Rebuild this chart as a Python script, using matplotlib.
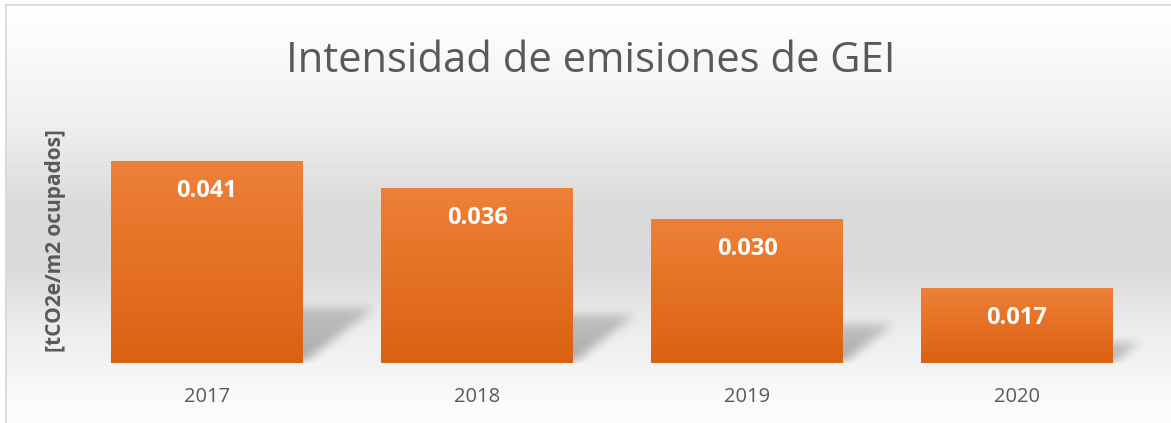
import numpy as np
import matplotlib
matplotlib.use("Agg")
import matplotlib.pyplot as plt

years = ["2017", "2018", "2019", "2020"]
values = [0.041, 0.036, 0.030, 0.017]
value_labels = ["0.041", "0.036", "0.030", "0.017"]
title = "Intensidad de emisiones de GEI"
ylabel = "[tCO2e/m2 ocupados]"

W, H = 1171, 423
fig = plt.figure(figsize=(W / 100, H / 100), dpi=100)

# background gradient
bg = fig.add_axes([0, 0, 1, 1], zorder=0)
bg.axis("off")
stops_y = [0, 5, 120, 210, 265, 330, 400, 423]
stops_v = [255, 255, 239, 217, 218, 236, 250, 252]
v = np.interp(np.arange(H), stops_y, stops_v) / 255.0
img = np.repeat(v[:, None], W, axis=1)
img[:, :5] = 1
img[:5, :] = 1
bg.imshow(img, cmap="gray", vmin=0, vmax=1, extent=[0, W, H, 0], aspect="auto",
          interpolation="bilinear")
bg.plot([5.5, 5.5], [5.5, H], color="#d9d9d9", lw=1.3)
bg.plot([5.5, W], [5.5, 5.5], color="#d9d9d9", lw=1.3)
bg.set_xlim(0, W)
bg.set_ylim(H, 0)

# main axes
ax_l, ax_b, ax_w, ax_h = 72, 60, 1080, 223
ax = fig.add_axes([ax_l / W, ax_b / H, ax_w / W, ax_h / H], zorder=1)
ax.patch.set_alpha(0)
y0, y1 = 0.0028, 0.045
x = np.arange(len(years))
bw = 0.711

# shadows raster (computed from bar geometry)
px_per_cat = ax_w / len(years)
px_per_unit = ax_h / (y1 - y0)
sh = np.zeros((ax_h, ax_w))
yy = np.arange(ax_h)[:, None]
xx = np.arange(ax_w)[None, :]
for i, val in enumerate(values):
    hpx = (val - y0) * px_per_unit
    shh = 0.27 * hpx
    shear = 0.35 * hpx
    xl = (i + 0.5) * px_per_cat - bw * px_per_cat / 2
    xr = xl + bw * px_per_cat
    frac = yy / shh
    inside = (yy <= shh) & (xx >= xl + shear * frac) & (xx <= xr + shear * frac)
    sh = np.maximum(sh, inside * (0.30 - 0.12 * np.clip(frac, 0, 1)))

def box_blur(a, k, axis):
    ker = np.ones(k) / k
    return np.apply_along_axis(lambda r: np.convolve(r, ker, mode="same"), axis, a)

for _ in range(3):
    sh = box_blur(sh, 9, 0)
    sh = box_blur(sh, 9, 1)
rgba = np.zeros((ax_h, ax_w, 4))
rgba[..., 3] = sh
ax.imshow(rgba[::-1], extent=[-0.5, 3.5, y0, y1], aspect="auto", zorder=1,
          interpolation="bilinear")

# bars with gradient
bars = ax.bar(x, values, width=bw, color="none", edgecolor="none", zorder=2)
top_c = np.array([238, 129, 56]) / 255
bot_c = np.array([219, 97, 18]) / 255
t = np.linspace(0, 1, 256)[:, None]
grad = (top_c[None, :] * (1 - t) + bot_c[None, :] * t)[:, None, :]
for b, val in zip(bars, values):
    im = ax.imshow(grad, extent=[b.get_x(), b.get_x() + b.get_width(), y0, val],
                   aspect="auto", zorder=2, interpolation="bilinear")
    im.set_clip_path(b)

for xi, val, lab in zip(x, values, value_labels):
    ax.annotate(lab, (xi, val), xytext=(0, -30), textcoords="offset pixels",
                ha="center", va="center", color="white", fontweight="bold",
                fontsize=17, family="Open Sans", zorder=3)

ax.set_xlim(-0.5, 3.5)
ax.set_ylim(y0, y1)
ax.set_xticks(x)
ax.set_xticklabels(years, fontsize=14.5, family="Open Sans", color="#595959")
ax.tick_params(axis="x", length=0, pad=17)
ax.set_yticks([])
for s in ax.spines.values():
    s.set_visible(False)

fig.text(591 / W, 1 - 72 / H, title, ha="center", va="baseline", fontsize=30,
         family="Open Sans", color="#595959")
fig.text(56 / W, 1 - 241 / H, ylabel, ha="center", va="center", rotation=90,
         fontsize=15, fontweight="bold", family="Open Sans", color="#595959")

fig.savefig("out.png", dpi=100)
